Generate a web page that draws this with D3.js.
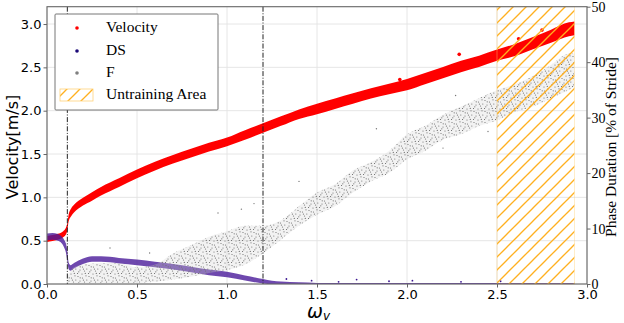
<!DOCTYPE html>
<html><head><meta charset="utf-8">
<script src="https://cdn.jsdelivr.net/npm/d3@7"></script>
<style>body{margin:0;background:#fff} svg{display:block}</style>
</head><body>
<svg id="c" width="624" height="323"></svg>
<script>
// ---------------- data ----------------
const xTicks = [0, 0.5, 1.0, 1.5, 2.0, 2.5, 3.0];
const yLeftTicks = [0, 0.5, 1.0, 1.5, 2.0, 2.5, 3.0];
const yRightTicks = [0, 10, 20, 30, 40, 50];
const phaseMarkers = [0.113, 1.2];
const untrainingArea = [2.5, 2.93];
const legendLabels = ["Velocity", "DS", "F", "Untraining Area"];

// Velocity [m/s] (left axis): band centre and half spread
const velX   = [0, 0.03, 0.06, 0.09, 0.105, 0.113, 0.12, 0.135, 0.15, 0.2, 0.25, 0.3, 0.4, 0.5, 0.6, 0.7, 0.8, 0.9, 1.0, 1.1, 1.2, 1.3, 1.4, 1.5, 1.6, 1.7, 1.8, 1.9, 2.0, 2.1, 2.2, 2.3, 2.4, 2.5, 2.6, 2.7, 2.8, 2.9, 2.93];
const velMid = [0.52, 0.53, 0.545, 0.575, 0.61, 0.66, 0.76, 0.83, 0.87, 0.95, 1.01, 1.07, 1.17, 1.27, 1.36, 1.44, 1.51, 1.58, 1.64, 1.72, 1.80, 1.88, 1.96, 2.02, 2.08, 2.14, 2.20, 2.25, 2.30, 2.37, 2.44, 2.51, 2.57, 2.64, 2.70, 2.78, 2.86, 2.94, 2.95];
const velHalf= [0.035, 0.035, 0.035, 0.035, 0.04, 0.04, 0.04, 0.045, 0.045, 0.045, 0.05, 0.05, 0.05, 0.05, 0.05, 0.05, 0.05, 0.05, 0.05, 0.055, 0.055, 0.055, 0.055, 0.06, 0.06, 0.06, 0.06, 0.06, 0.065, 0.065, 0.065, 0.065, 0.065, 0.065, 0.07, 0.07, 0.075, 0.08, 0.08];
const velOutliers = [[1.96, 2.36], [2.29, 2.65], [2.62, 2.83], [2.75, 2.93]];

// DS [% of stride] (right axis)
const dsX   = [0, 0.03, 0.06, 0.08, 0.095, 0.105, 0.113, 0.12, 0.13, 0.15, 0.2, 0.25, 0.3, 0.35, 0.4, 0.5, 0.6, 0.7, 0.8, 0.9, 1.0, 1.1, 1.2, 1.25, 1.3, 1.4, 1.5, 2.0, 2.5, 2.93];
const dsMid = [8.5, 8.6, 8.4, 8.0, 7.3, 6.5, 5.0, 3.3, 2.9, 3.3, 4.1, 4.5, 4.5, 4.4, 4.2, 3.9, 3.5, 3.1, 2.6, 2.1, 1.7, 1.1, 0.5, 0.3, 0.2, 0.1, 0.05, 0.05, 0.05, 0.05];
const dsHalf= [0.6, 0.6, 0.6, 0.6, 0.7, 0.8, 0.9, 0.6, 0.5, 0.5, 0.5, 0.5, 0.5, 0.5, 0.5, 0.5, 0.5, 0.5, 0.5, 0.5, 0.5, 0.45, 0.4, 0.3, 0.25, 0.2, 0.15, 0.15, 0.15, 0.15];
const dsOutliers = [[1.33, 0.9], [1.47, 0.6], [1.62, 0.4], [1.72, 0.8], [1.9, 0.5], [2.03, 0.6], [2.3, 0.4], [2.52, 0.5]];

// F [% of stride] (right axis): cloud lower / upper edge
const fX    = [0.115, 0.15, 0.2, 0.3, 0.4, 0.5, 0.6, 0.7, 0.8, 0.9, 1.0, 1.1, 1.2, 1.3, 1.4, 1.5, 1.6, 1.7, 1.8, 1.9, 2.0, 2.1, 2.2, 2.3, 2.4, 2.5, 2.6, 2.7, 2.8, 2.9, 2.93];
const fLow  = [0.3, 0.2, 0.2, 0.2, 0.2, 0.2, 0.4, 0.8, 1.3, 2.0, 2.5, 3.5, 5.5, 8.0, 10.5, 12.5, 14.0, 16.5, 18.5, 20.0, 22.5, 24.0, 26.0, 27.0, 28.5, 29.5, 31.0, 32.0, 33.5, 35.0, 35.5];
const fHigh = [1.5, 3.0, 3.5, 3.8, 3.8, 3.0, 3.5, 5.5, 7.0, 8.5, 9.5, 10.5, 10.5, 11.5, 14.0, 16.5, 18.0, 20.5, 22.0, 24.0, 27.0, 28.5, 30.5, 32.0, 33.5, 35.0, 36.0, 37.5, 39.5, 41.5, 41.5];
const fOutliers = [[0.35, 6.5], [0.57, 5.6], [0.95, 12.8], [1.08, 13.5], [1.15, 14.5], [1.4, 18.5], [1.83, 28], [2.2, 24.5], [2.27, 34], [2.45, 27.5]];

// ---------------- drawing ----------------
const svg = d3.select("#c");
const M = {l: 47, r: 587, t: 6.7, b: 284};
const x = d3.scaleLinear([0, 3], [M.l, M.r]);
const yL = d3.scaleLinear([0, 3.2], [M.b, M.t]);
const yR = d3.scaleLinear([0, 50], [M.b, M.t]);
const sans = "DejaVu Sans, sans-serif";
const serif = "Liberation Serif, Times New Roman, serif";

const defs = svg.append("defs");
defs.append("clipPath").attr("id", "clip").append("rect")
  .attr("x", M.l).attr("y", M.t).attr("width", M.r - M.l).attr("height", M.b - M.t);
const hp = defs.append("pattern").attr("id", "hatch").attr("patternUnits", "userSpaceOnUse")
  .attr("width", 13).attr("height", 13);
[[-1, 14, 14, -1], [-14, 14, 1, -1], [12, 14, 27, -1]].forEach(s =>
  hp.append("line").attr("x1", s[0]).attr("y1", s[1]).attr("x2", s[2]).attr("y2", s[3])
    .attr("stroke", "#ffb020").attr("stroke-width", 1.3));
const dp = defs.append("pattern").attr("id", "dots").attr("patternUnits", "userSpaceOnUse")
  .attr("width", 11).attr("height", 11);
[[1, 1.5], [5.5, 3], [9, 0.8], [3, 6], [7.5, 7], [0.5, 9.5], [5, 10], [9.8, 5], [3.2, 2.8], [8.3, 9.4], [1.8, 7.8], [6.4, 5.1]].forEach(p =>
  dp.append("circle").attr("cx", p[0]).attr("cy", p[1]).attr("r", 0.6).attr("fill", "#6e6e6e"));

// grid
const grid = svg.append("g").attr("stroke", "#e3e3e3").attr("stroke-width", 0.9);
xTicks.forEach(t => grid.append("line").attr("x1", x(t)).attr("x2", x(t)).attr("y1", M.t).attr("y2", M.b));
yLeftTicks.forEach(t => grid.append("line").attr("x1", M.l).attr("x2", M.r).attr("y1", yL(t)).attr("y2", yL(t)));

const plot = svg.append("g").attr("clip-path", "url(#clip)");

// velocity band
const velData = velX.map((v, i) => ({x: v, m: velMid[i], h: velHalf[i]}));
plot.append("path").datum(velData)
  .attr("d", d3.area().x(d => x(d.x)).y0(d => yL(d.m - d.h)).y1(d => yL(d.m + d.h)).curve(d3.curveMonotoneX))
  .attr("fill", "#ff0000");
plot.selectAll(".vo").data(velOutliers).join("circle")
  .attr("cx", d => x(d[0])).attr("cy", d => yL(d[1])).attr("r", 1.8).attr("fill", "#ff0000");

// DS band
const dsData = dsX.map((v, i) => ({x: v, m: dsMid[i], h: dsHalf[i]}));
plot.append("path").datum(dsData)
  .attr("d", d3.area().x(d => x(d.x)).y0(d => yR(Math.max(0, d.m - d.h))).y1(d => yR(d.m + d.h)).curve(d3.curveMonotoneX))
  .attr("fill", "#4a1a9a").attr("opacity", 0.8);
plot.selectAll(".dso").data(dsOutliers).join("circle")
  .attr("cx", d => x(d[0])).attr("cy", d => yR(d[1])).attr("r", 0.9).attr("fill", "#3a1490");

// F cloud
const fData = fX.map((v, i) => ({x: v, lo: fLow[i], hi: fHigh[i]}));
plot.append("path").datum(fData)
  .attr("d", d3.area().x(d => x(d.x)).y0(d => yR(d.lo)).y1(d => yR(d.hi)).curve(d3.curveMonotoneX))
  .attr("fill", "#d4d4d4").attr("opacity", 0.3);
plot.append("path").datum(fData)
  .attr("d", d3.area().x(d => x(d.x)).y0(d => yR(d.lo)).y1(d => yR(d.hi)).curve(d3.curveMonotoneX))
  .attr("fill", "url(#dots)");
plot.selectAll(".fo").data(fOutliers).join("circle")
  .attr("cx", d => x(d[0])).attr("cy", d => yR(d[1])).attr("r", 0.7).attr("fill", "#777");

// vertical phase markers
phaseMarkers.forEach(v => svg.append("line")
  .attr("x1", x(v)).attr("x2", x(v)).attr("y1", M.t).attr("y2", M.b)
  .attr("stroke", "#222").attr("stroke-width", 1).attr("stroke-dasharray", "5,1.6,1,1.6"));

// untraining area
svg.append("rect").attr("x", x(untrainingArea[0])).attr("y", M.t)
  .attr("width", x(untrainingArea[1]) - x(untrainingArea[0])).attr("height", M.b - M.t)
  .attr("fill", "url(#hatch)").attr("stroke", "#ffd27a").attr("stroke-opacity", 0.5).attr("stroke-width", 0.8);

// axes
function styleAxis(g, font, size) {
  g.select(".domain").remove();
  g.selectAll(".tick line").attr("stroke", "#666");
  g.selectAll(".tick text").attr("font-family", font).attr("font-size", size).attr("fill", "#000");
}
svg.append("g").attr("transform", `translate(0,${M.b})`)
  .call(d3.axisBottom(x).tickValues(xTicks).tickFormat(d3.format(".1f")).tickSize(3.5).tickPadding(2))
  .call(g => styleAxis(g, sans, 13));
svg.append("g").attr("transform", `translate(${M.l},0)`)
  .call(d3.axisLeft(yL).tickValues(yLeftTicks).tickFormat(d3.format(".1f")).tickSize(3.5).tickPadding(2))
  .call(g => styleAxis(g, sans, 13));
svg.append("g").attr("transform", `translate(${M.r},0)`)
  .call(d3.axisRight(yR).tickValues(yRightTicks).tickFormat(d3.format("d")).tickSize(3.5).tickPadding(1))
  .call(g => styleAxis(g, serif, 14));

// frame
svg.append("rect").attr("x", M.l).attr("y", M.t).attr("width", M.r - M.l).attr("height", M.b - M.t)
  .attr("fill", "none").attr("stroke", "#666").attr("stroke-width", 1.1);

// axis labels
svg.append("text").attr("transform", `translate(13,147) rotate(-90)`)
  .attr("text-anchor", "middle").attr("dominant-baseline", "middle")
  .attr("font-family", sans).attr("font-size", 16).text("Velocity[m/s]");
svg.append("text").attr("transform", `translate(612,147) rotate(-90)`)
  .attr("text-anchor", "middle").attr("dominant-baseline", "middle")
  .attr("font-family", serif).attr("font-size", 15.5).text("Phase Duration [% of Stride]");
const xl = svg.append("text").attr("x", 307).attr("y", 318).attr("font-family", sans)
  .attr("font-style", "italic").attr("font-size", 19).text("ω");
xl.append("tspan").attr("font-size", 12).attr("dy", 2).text("v");

// legend
const lg = svg.append("g");
lg.append("rect").attr("x", 55).attr("y", 14).attr("width", 163).attr("height", 96)
  .attr("fill", "#fff").attr("stroke", "#777").attr("stroke-width", 1).attr("rx", 1);
const rowY = [28, 51, 73, 95];
const mColors = ["#ff0000", "#1c0a78", "#808080"];
legendLabels.forEach((t, i) => {
  if (i < 3) lg.append("circle").attr("cx", 77).attr("cy", rowY[i]).attr("r", 1.8).attr("fill", mColors[i]);
  else lg.append("rect").attr("x", 60).attr("y", rowY[i] - 6).attr("width", 33).attr("height", 12)
    .attr("fill", "url(#hatch)").attr("stroke", "#ffd27a").attr("stroke-width", 0.8);
  lg.append("text").attr("x", 106).attr("y", rowY[i]).attr("dominant-baseline", "middle")
    .attr("font-family", serif).attr("font-size", 15.5).text(t);
});
</script>
</body></html>
